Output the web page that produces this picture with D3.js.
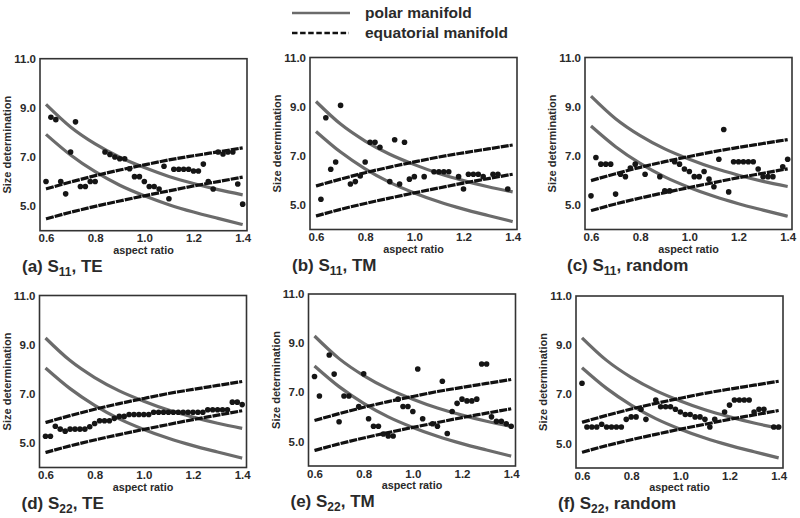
<!DOCTYPE html>
<html><head><meta charset="utf-8">
<script src="https://cdn.jsdelivr.net/npm/d3@7"></script>
<style>
html,body{margin:0;padding:0;background:#fff;}
svg{display:block;font-family:"Liberation Sans",Arial,sans-serif;}
</style></head>
<body><svg id="chart" width="800" height="518"></svg>
<script>
// ---------- data ----------
const panelLetters = ["a","b","c","d","e","f"];
const sParams = ["11","11","11","22","22","22"];
const modes = ["TE","TM","random","TE","TM","random"];
const xTicks = [0.6,0.8,1.0,1.2,1.4];
const yTicks = [5,7,9,11];
const curveX = [0.6,0.7,0.8,0.9,1.0,1.1,1.2,1.3,1.4];

// polar manifold (solid grey), two branches, one row per panel
const polarHi = [
  [9.14,8.22,7.53,6.99,6.57,6.21,5.92,5.67,5.46],
  [9.21,8.29,7.60,7.06,6.64,6.28,5.99,5.74,5.53],
  [9.43,8.51,7.82,7.28,6.86,6.50,6.21,5.96,5.75],
  [9.27,8.35,7.66,7.12,6.70,6.34,6.05,5.80,5.59],
  [9.29,8.37,7.68,7.14,6.72,6.36,6.07,5.82,5.61],
  [9.30,8.38,7.69,7.15,6.73,6.37,6.08,5.83,5.62]
];
const polarLo = [
  [7.92,7.08,6.40,5.85,5.42,5.06,4.76,4.50,4.25],
  [7.99,7.15,6.47,5.92,5.49,5.13,4.83,4.57,4.32],
  [8.21,7.37,6.69,6.14,5.71,5.35,5.05,4.79,4.54],
  [8.05,7.21,6.53,5.98,5.55,5.19,4.89,4.63,4.38],
  [8.07,7.23,6.55,6.00,5.57,5.21,4.91,4.65,4.40],
  [8.08,7.24,6.56,6.01,5.58,5.22,4.92,4.66,4.41]
];
// equatorial manifold (dashed black), two branches
const equHi = [
  [5.70,5.98,6.24,6.47,6.68,6.88,7.05,7.21,7.37],
  [5.77,6.05,6.31,6.54,6.75,6.95,7.12,7.28,7.44],
  [5.99,6.27,6.53,6.76,6.97,7.17,7.34,7.50,7.66],
  [5.83,6.11,6.37,6.60,6.81,7.01,7.18,7.34,7.50],
  [5.85,6.13,6.39,6.62,6.83,7.03,7.20,7.36,7.52],
  [5.86,6.14,6.40,6.63,6.84,7.04,7.21,7.37,7.53]
];
const equLo = [
  [4.48,4.75,4.99,5.21,5.42,5.62,5.82,6.00,6.18],
  [4.55,4.82,5.06,5.28,5.49,5.69,5.89,6.07,6.25],
  [4.77,5.04,5.28,5.50,5.71,5.91,6.11,6.29,6.47],
  [4.61,4.88,5.12,5.34,5.55,5.75,5.95,6.13,6.31],
  [4.63,4.90,5.14,5.36,5.57,5.77,5.97,6.15,6.33],
  [4.64,4.91,5.15,5.37,5.58,5.78,5.98,6.16,6.34]
];

// measured size determination points [aspect ratio, value]
const dotsA = [[0.60,6.0],[0.62,8.62],[0.64,8.52],[0.66,6.0],[0.68,5.5],[0.70,7.2],[0.72,8.43],[0.74,5.8],[0.76,5.8],[0.78,6.0],[0.80,6.0],[0.84,7.2],[0.86,7.1],[0.88,7.0],[0.90,6.93],[0.92,6.93],[0.94,6.52],[0.96,6.2],[0.98,6.2],[1.00,6.0],[1.02,5.8],[1.04,5.8],[1.06,5.7],[1.08,6.62],[1.10,5.3],[1.12,6.5],[1.14,6.5],[1.16,6.5],[1.18,6.5],[1.20,6.43],[1.22,6.43],[1.24,6.71],[1.26,6.0],[1.28,5.7],[1.30,7.2],[1.32,7.12],[1.34,7.2],[1.36,7.2],[1.38,5.9],[1.40,5.08]];
const dotsB = [[0.62,5.23],[0.64,8.55],[0.66,6.45],[0.68,6.75],[0.70,9.05],[0.74,5.85],[0.76,5.95],[0.78,6.18],[0.80,6.75],[0.82,7.55],[0.84,7.55],[0.86,7.35],[0.90,5.95],[0.92,7.65],[0.94,5.85],[0.96,7.55],[0.98,6.05],[1.00,6.15],[1.04,6.15],[1.08,6.35],[1.10,6.35],[1.12,6.35],[1.14,6.35],[1.18,6.15],[1.20,5.65],[1.22,6.25],[1.24,6.25],[1.26,6.25],[1.28,6.15],[1.32,6.25],[1.34,6.25],[1.38,5.65]];
const dotsC = [[0.60,5.37],[0.62,6.93],[0.64,6.66],[0.66,6.66],[0.68,6.66],[0.70,5.44],[0.72,6.25],[0.74,6.15],[0.76,6.5],[0.78,6.66],[0.82,6.25],[0.88,6.15],[0.90,5.57],[0.92,5.57],[0.94,6.76],[0.96,6.66],[0.98,6.46],[1.00,6.36],[1.02,6.15],[1.04,6.15],[1.06,6.36],[1.08,6.05],[1.10,5.74],[1.12,6.86],[1.14,8.07],[1.16,5.53],[1.18,6.76],[1.20,6.76],[1.22,6.76],[1.24,6.76],[1.26,6.76],[1.28,6.46],[1.30,6.15],[1.32,6.15],[1.34,6.15],[1.38,6.55],[1.40,6.86]];
const dotsD = [[0.60,5.27],[0.62,5.27],[0.64,5.68],[0.66,5.56],[0.68,5.48],[0.70,5.56],[0.72,5.56],[0.74,5.56],[0.76,5.56],[0.78,5.66],[0.80,5.79],[0.82,5.9],[0.84,5.9],[0.86,5.9],[0.88,6.0],[0.90,6.08],[0.92,6.08],[0.94,6.16],[0.96,6.16],[0.98,6.16],[1.00,6.16],[1.02,6.16],[1.04,6.25],[1.06,6.25],[1.08,6.25],[1.10,6.25],[1.12,6.25],[1.14,6.25],[1.16,6.25],[1.18,6.25],[1.20,6.25],[1.22,6.25],[1.24,6.25],[1.26,6.35],[1.28,6.35],[1.30,6.35],[1.32,6.35],[1.34,6.35],[1.36,6.66],[1.38,6.66],[1.40,6.56]];
const dotsE = [[0.60,7.64],[0.62,6.85],[0.66,8.52],[0.68,7.74],[0.70,5.8],[0.72,6.85],[0.74,6.85],[0.78,6.42],[0.80,7.75],[0.82,5.92],[0.84,5.62],[0.86,5.62],[0.88,5.3],[0.90,5.22],[0.92,5.22],[0.94,6.72],[0.96,6.42],[0.98,6.42],[1.00,6.22],[1.02,7.95],[1.04,5.92],[1.08,5.72],[1.10,5.62],[1.12,7.45],[1.14,5.32],[1.16,6.22],[1.18,6.55],[1.20,6.72],[1.22,6.65],[1.24,6.65],[1.26,6.72],[1.28,8.15],[1.30,8.15],[1.32,6.0],[1.34,5.82],[1.36,5.82],[1.38,5.72],[1.40,5.62]];
const dotsF = [[0.60,7.45],[0.62,5.67],[0.64,5.67],[0.66,5.67],[0.68,5.78],[0.70,5.67],[0.72,5.67],[0.74,5.67],[0.76,5.67],[0.78,5.98],[0.80,6.08],[0.82,6.08],[0.84,6.39],[0.86,5.98],[0.90,6.77],[0.92,6.49],[0.94,6.49],[0.96,6.49],[0.98,6.39],[1.00,6.28],[1.02,6.18],[1.04,6.18],[1.06,6.08],[1.08,6.08],[1.10,5.98],[1.12,5.67],[1.14,5.98],[1.18,6.28],[1.20,6.56],[1.22,6.77],[1.24,6.77],[1.26,6.77],[1.28,6.77],[1.30,6.28],[1.32,6.39],[1.34,6.39],[1.38,5.67],[1.40,5.67]];
const allDots = [dotsA,dotsB,dotsC,dotsD,dotsE,dotsF];

const legendLabels = ["polar manifold","equatorial manifold"];
const xTitle = "aspect ratio";
const yTitle = "Size determination";

// ---------- layout ----------
const svg = d3.select("#chart");
const PW = 207, PH = 172;
const boxes = [
  {left:40, top:58.7},
  {left:310, top:57.5},
  {left:585, top:57.5},
  {left:39.5, top:295.5},
  {left:308.5, top:294},
  {left:576, top:296}
];
const textCol = "#2a2a2a";
const greyCol = "#6b6b6b";

boxes.forEach((b, i) => {
  const g = svg.append("g").attr("transform", `translate(${b.left},${b.top})`);
  const x = d3.scaleLinear().domain([0.5756, 1.4176]).range([0, PW]);
  const y = d3.scaleLinear().domain([4, 11]).range([PH, 0]);

  // axes
  const xa = g.append("g").attr("transform", `translate(0,${PH})`)
    .call(d3.axisBottom(x).tickValues(xTicks).tickSize(0).tickPadding(3.5).tickFormat(d3.format(".1f")));
  const ya = g.append("g")
    .call(d3.axisLeft(y).tickValues(yTicks).tickSize(0).tickPadding(4).tickFormat(d3.format(".1f")));
  [xa, ya].forEach(a => {
    a.select(".domain").remove();
    a.selectAll("text").attr("fill", textCol).style("font-size", "11.5px").style("font-weight", "bold").attr("font-family", null);
  });

  const line = d3.line().x((d, k) => x(curveX[k])).y(d => y(d)).curve(d3.curveMonotoneX);
  [polarHi[i], polarLo[i]].forEach(arr => {
    g.append("path").attr("d", line(arr)).attr("fill", "none")
      .attr("stroke", greyCol).attr("stroke-width", 3.2);
  });
  [equHi[i], equLo[i]].forEach(arr => {
    g.append("path").attr("d", line(arr)).attr("fill", "none")
      .attr("stroke", "#111").attr("stroke-width", 3.2).attr("stroke-dasharray", "8,1");
  });

  g.selectAll("circle.dot").data(allDots[i]).enter().append("circle")
    .attr("class", "dot").attr("cx", d => x(d[0])).attr("cy", d => y(d[1]))
    .attr("r", 2.8).attr("fill", "#151515");

  // frame
  g.append("rect").attr("x", 0).attr("y", 0).attr("width", PW).attr("height", PH)
    .attr("fill", "none").attr("stroke", "#333").attr("stroke-width", 1.6);

  // axis titles
  g.append("text").attr("x", PW / 2).attr("y", PH + 23).attr("text-anchor", "middle")
    .attr("fill", textCol).style("font-size", "10.8px").style("font-weight", "bold").text(xTitle);
  g.append("text").attr("transform", `translate(-29,${PH / 2}) rotate(-90)`)
    .attr("text-anchor", "middle").attr("fill", textCol)
    .style("font-size", "11px").style("font-weight", "bold").text(yTitle);

  // panel caption
  const t = g.append("text").attr("x", -18).attr("y", PH + 41).attr("fill", textCol)
    .style("font-size", "17px").style("font-weight", "bold");
  t.append("tspan").text(`(${panelLetters[i]}) S`);
  t.append("tspan").attr("dy", 4).style("font-size", "12px").text(sParams[i]);
  t.append("tspan").attr("dy", -4).text(`, ${modes[i]}`);
});

// legend
const lg = svg.append("g");
lg.append("line").attr("x1", 292).attr("x2", 350).attr("y1", 13).attr("y2", 13)
  .attr("stroke", greyCol).attr("stroke-width", 2.6);
lg.append("line").attr("x1", 292).attr("x2", 349).attr("y1", 33).attr("y2", 33)
  .attr("stroke", "#111").attr("stroke-width", 2.6).attr("stroke-dasharray", "5.5,2.6");
legendLabels.forEach((s, k) => {
  lg.append("text").attr("x", 365).attr("y", 13 + 20 * k).attr("dy", "0.35em")
    .attr("fill", textCol).style("font-size", "15.5px").style("font-weight", "bold").text(s);
});
</script></body></html>
